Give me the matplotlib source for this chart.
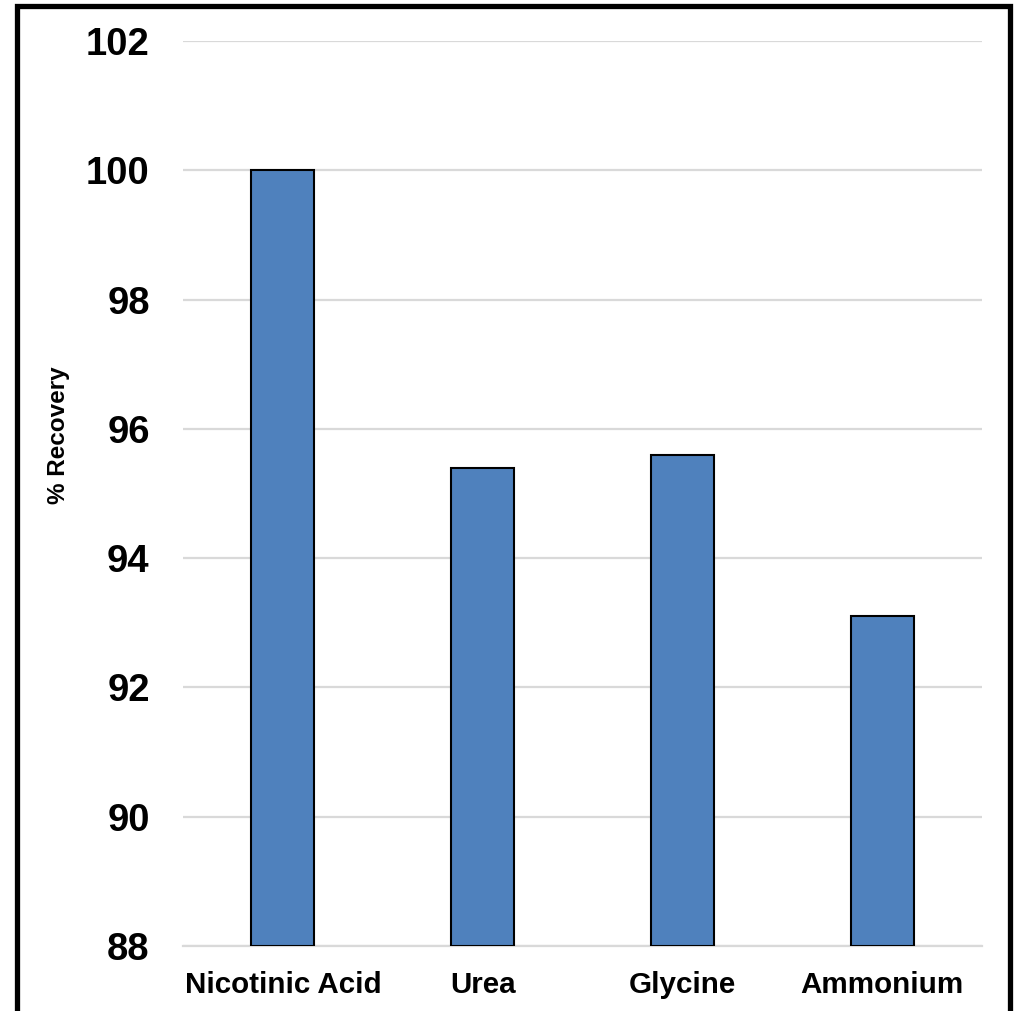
import matplotlib.pyplot as plt
from matplotlib.lines import Line2D

categories = ['Nicotinic Acid', 'Urea', 'Glycine', 'Ammonium']
recovery = [100.0, 95.4, 95.6, 93.1]
yticks = [88, 90, 92, 94, 96, 98, 100, 102]

plt.rcParams['font.family'] = ['Liberation Sans', 'DejaVu Sans']
plt.rcParams['font.weight'] = 'bold'

fig = plt.figure(figsize=(10.15, 10.11), dpi=100)
ax = fig.add_axes([0.1803, 0.0643, 0.7872, 0.8951])

x = range(len(categories))
ax.bar(x, [v - 88 for v in recovery], bottom=88, width=0.315,
       color='#4F81BD', edgecolor='black', linewidth=1.5, zorder=3)

ax.set_xlim(-0.5, 3.5)
ax.set_ylim(88, 102)
ax.set_yticks(yticks)
ax.set_xticks(list(x))
ax.set_xticklabels(categories, fontsize=21.3, fontweight='bold')
ax.set_yticklabels([str(t) for t in yticks], fontsize=27.5, fontweight='bold')
ax.tick_params(axis='both', length=0)
ax.tick_params(axis='y', pad=24)
ax.tick_params(axis='x', pad=18)

ax.grid(axis='y', color='#D9D9D9', linewidth=1.6, zorder=0)
for s in ['top', 'right', 'left']:
    ax.spines[s].set_visible(False)
ax.spines['bottom'].set_color('#D9D9D9')
ax.spines['bottom'].set_linewidth(1.6)

ax.set_ylabel('% Recovery', fontsize=17.5, fontweight='bold')
ax.yaxis.set_label_coords(-0.141, 0.565)

# outer frame (open at the bottom)
fig.add_artist(Line2D([0.0165, 0.0165, 0.9948, 0.9948],
                      [0.0, 0.9936, 0.9936, 0.0],
                      transform=fig.transFigure, color='black', linewidth=3.8,
                      solid_joinstyle='miter'))

fig.savefig('out.png', dpi=100)
